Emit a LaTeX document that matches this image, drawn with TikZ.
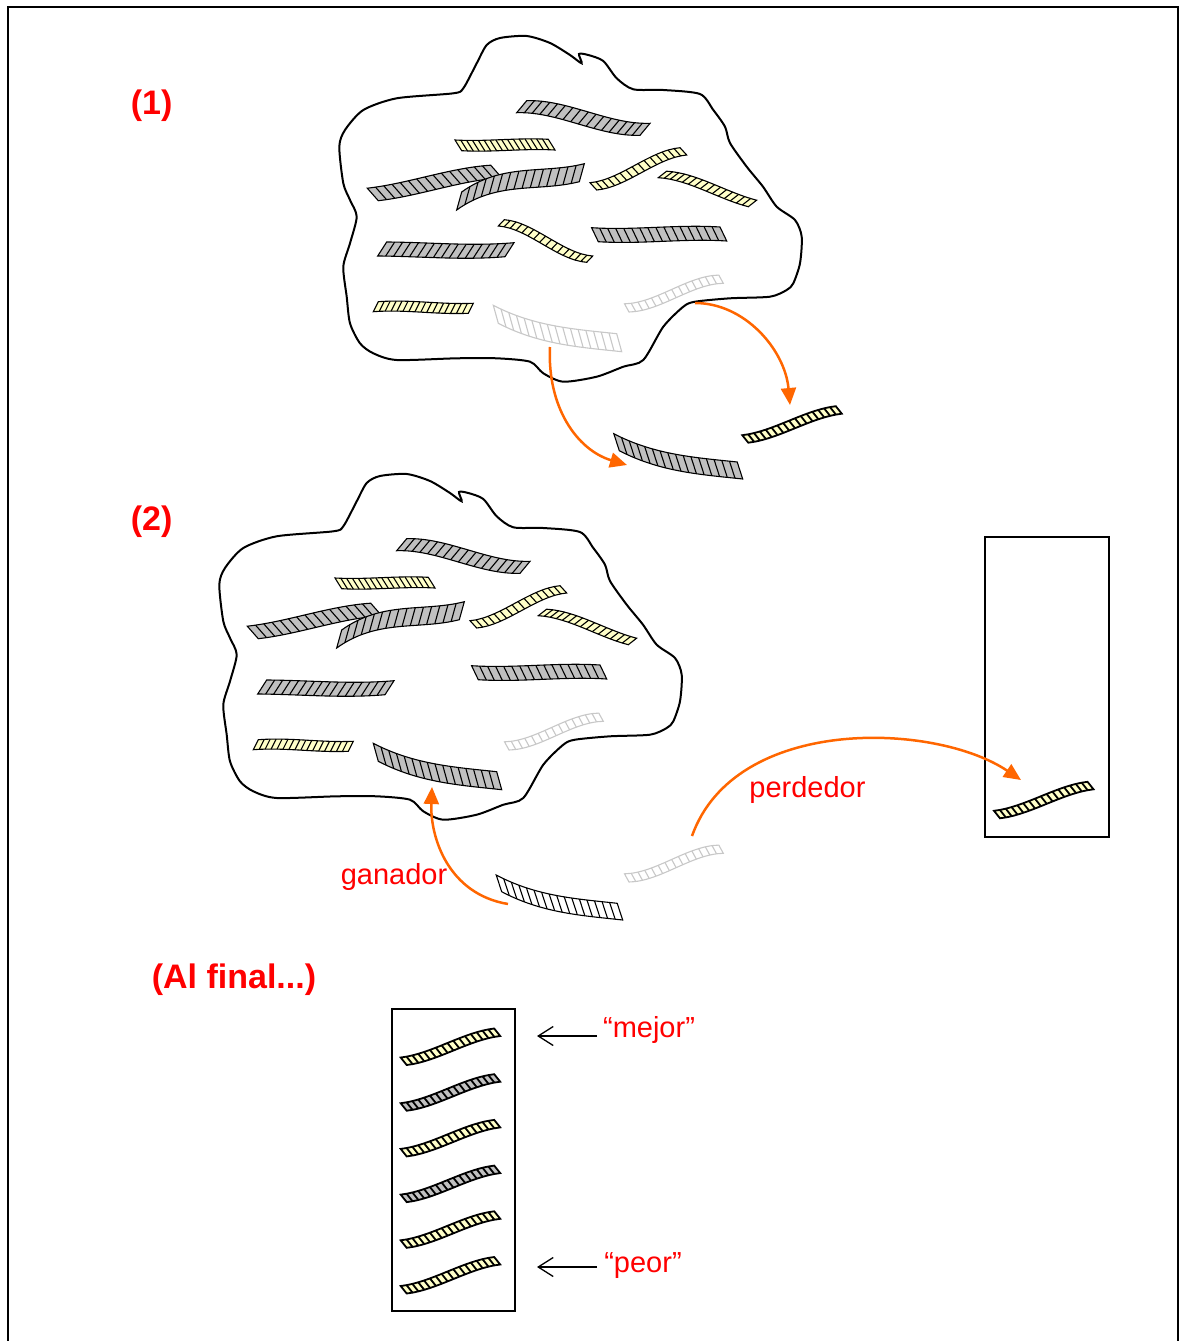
\documentclass[tikz,border=0pt]{standalone}
\usepackage{fontspec}
\setmainfont{Liberation Sans}
\usetikzlibrary{calc,arrows.meta}

\definecolor{stripgray}{RGB}{192,192,192}
\definecolor{stripyellow}{RGB}{255,255,200}
\definecolor{stripghost}{RGB}{200,200,200}
\definecolor{flow}{RGB}{255,102,0}
\definecolor{labelred}{RGB}{255,0,0}

\tikzset{
  gray strip/.style={fill=stripgray, draw=black, line width=1.1pt},
  yellow strip/.style={fill=stripyellow, draw=black, line width=1.1pt},
  ghost strip/.style={fill=white, draw=stripghost, line width=1.1pt},
  white strip/.style={fill=white, draw=black, line width=1.1pt},
  small yellow/.style={fill=stripyellow, draw=black, line width=1.8pt},
  small gray/.style={fill=stripgray, draw=black, line width=1.8pt},
  cloud/.style={draw=black, line width=2pt, fill=white},
  flow arrow/.style={draw=flow, line width=2.5pt, -{Triangle[length=17pt,width=15pt]}},
  pointer/.style={draw=black, line width=1.3pt, -{Straight Barb[length=15pt,width=19pt]}},
  step label/.style={text=labelred, font=\fontsize{34}{40}\selectfont\bfseries, inner sep=0pt, anchor=base},
  tag label/.style={text=labelred, font=\fontsize{29}{34}\selectfont, inner sep=0pt, anchor=base},
  holder/.style={draw=black, line width=2pt, inner sep=0pt},
}

% wavy hatched strip: style, hatch count, start, end, wave offsets of the
% two control points, thickness vector
\newcommand\ribbon[7]{%
  \coordinate (rA) at #3;
  \coordinate (rB) at #4;
  \coordinate (rC) at ($(rA)!1/3!(rB)+#5$);
  \coordinate (rD) at ($(rA)!2/3!(rB)+#6$);
  \path[#1] (rA) .. controls (rC) and (rD) .. (rB) -- ($(rB)+#7$)
     .. controls ($(rD)+#7$) and ($(rC)+#7$) .. ($(rA)+#7$) -- cycle;
  \pgfmathtruncatemacro\rlast{#2-1}%
  \foreach \k in {1,...,\rlast}{%
    \pgfmathsetmacro\rt{\k/#2}%
    \path (rA) .. controls (rC) and (rD) .. (rB) coordinate[pos=\rt] (rH);
    \draw[#1, fill=none] (rH) -- ++#7;
  }%
}
% short strip used outside the population
\newcommand\smallribbon[2]{\ribbon{#1}{16}{#2}{($#2+(93.5,-29)$)}{(0,6)}{(0,-6)}{(-6,-7.5)}}

\newcommand\cloudoutline{plot[smooth cycle, tension=0.45] coordinates {
  (486.7,45) (500,38) (526.7,36) (550,43) (570,55) (581.7,63.3) (579,54)
  (588.3,55) (603.3,61) (616.7,78.3) (633.3,89.3) (663.3,90) (700,94)
  (713.3,110) (725,126.7) (730,143) (746.7,166.7) (763,186.7) (776.7,206.7)
  (795,220) (801.7,236.7) (800,263.3) (793.3,283.3) (786.7,290) (770,296.7)
  (730,298.3) (695,301.7) (683.3,306.7) (663.3,326.7) (643.3,360)
  (623.3,366.7) (596.7,376.7) (563.3,381.7) (543.3,373.3) (530,361.7)
  (496.7,358.3) (456.7,358.3) (396.7,360) (373.3,353.3) (360,343.3)
  (350,323.3) (346.7,296.7) (343.3,266.7) (350,243.3) (356.7,216.7)
  (350,200) (343.3,183.3) (339.3,146.7) (345,130) (363.3,110) (396.7,98.3)
  (453.3,93.3) (463.3,88.3) (476.7,63.3)}}

% strips that stay in the population
\newcommand\commonstrips{%
  \ribbon{gray strip}{16}{(516.7,112.7)}{(640,135.3)}{(0,-9)}{(0,9)}{(10,-12)}
  \ribbon{yellow strip}{16}{(461.7,150.7)}{(555,150)}{(0,2)}{(0,-2)}{(-6.7,-10.7)}
  \ribbon{gray strip}{15}{(378.3,200.7)}{(501.7,177.7)}{(0,3)}{(0,-5)}{(-11,-12.5)}
  \ribbon{gray strip}{15}{(456.7,210)}{(579.3,181.7)}{(0,-20)}{(0,1)}{(5,-18)}
  \ribbon{yellow strip}{15}{(596.7,190)}{(686.7,155)}{(0,9)}{(0,-9)}{(-6.7,-7.3)}
  \ribbon{yellow strip}{15}{(658.3,177.7)}{(748.3,206.7)}{(0,-8)}{(0,2)}{(8.3,-6.5)}
  \ribbon{gray strip}{16}{(377.7,256)}{(505,256.7)}{(0,0)}{(0,4)}{(9,-14)}
  \ribbon{gray strip}{16}{(598.3,241.7)}{(726.7,241)}{(0,3)}{(0,-3)}{(-6.7,-14)}
  \ribbon{yellow strip}{16}{(373.3,311.7)}{(468.3,313.3)}{(0,-3)}{(0,2)}{(5,-10)}
  \ribbon{ghost strip}{14}{(629,312)}{(723.3,283.3)}{(0,9)}{(0,-9)}{(-4.5,-8.2)}
}

\begin{document}
\begin{tikzpicture}[x=1pt, y=-1pt]
\useasboundingbox (0,0) rectangle (1179,1341);

% page frame (open at the bottom)
\draw[line width=2.5pt] (8,1345) -- (8,7) -- (1178,7) -- (1178,1345);

% (1) population and the two picked strips
\draw[cloud] \cloudoutline;
\commonstrips
\ribbon{yellow strip}{15}{(498.3,226)}{(586.7,262.3)}{(0,-10)}{(0,10)}{(6,-6.3)}
\ribbon{ghost strip}{16}{(498.3,323.3)}{(621.7,351.7)}{(0,12)}{(0,5)}{(-5,-18)}

\ribbon{gray strip}{16}{(619.3,450.7)}{(742.7,479)}{(0,12)}{(0,5)}{(-5.5,-17)}
\smallribbon{small yellow}{(748.3,442.7)}

% (2) population after the tournament
\begin{scope}[shift={(-120,438)}]
  \draw[cloud] \cloudoutline;
  \commonstrips
  \ribbon{gray strip}{16}{(498.3,323.3)}{(621.7,351.7)}{(0,12)}{(0,5)}{(-5,-18)}
\end{scope}

\ribbon{white strip}{16}{(501.7,891.7)}{(622.7,920)}{(0,12)}{(0,5)}{(-5.5,-16.7)}
\ribbon{ghost strip}{14}{(629,882)}{(723.3,853.3)}{(0,9)}{(0,-9)}{(-4.5,-8.2)}

\node[holder, minimum width=124pt, minimum height=300pt] (loserbox) at (1047,687) {};
\smallribbon{small yellow}{(1000,818.3)}

% final ranking
\node[holder, minimum width=123.3pt, minimum height=301.4pt] (rankbox) at (453.3,1160) {};
\smallribbon{small yellow}{(406.7,1065)}
\smallribbon{small gray}{(406.7,1110.7)}
\smallribbon{small yellow}{(406.7,1156.4)}
\smallribbon{small gray}{(406.7,1202.1)}
\smallribbon{small yellow}{(406.7,1247.8)}
\smallribbon{small yellow}{(406.7,1293.5)}

% connector ends
\coordinate (takeA) at (550,347);
\coordinate (dropA) at (627,465);
\coordinate (takeB) at (695,303);
\coordinate (dropB) at (790,405);
\coordinate (winFrom) at (508,904);
\coordinate (winTo) at (432,787);
\coordinate (loseFrom) at (692,836);
\coordinate (loseTo) at (1021,780);
\coordinate (bestTail) at (597,1036);
\coordinate (bestTip) at (537,1036);
\coordinate (worstTail) at (597,1267);
\coordinate (worstTip) at (537,1267);

\draw[flow arrow] (takeA) .. controls +(-3,60) and +(-50,-15) .. (dropA);
\draw[flow arrow] (takeB) .. controls +(50,0) and +(-5,-55) .. (dropB);
\draw[flow arrow] (winFrom) .. controls +(-60,-10) and +(-2,50) .. (winTo);
\draw[flow arrow] (loseFrom) .. controls +(43,-121) and +(-86,-58) .. (loseTo);

\draw[pointer] (bestTail) -- (bestTip);
\draw[pointer] (worstTail) -- (worstTip);

% labels
\node[step label] (lab1) at (151.7,114.6) {(1)};
\node[step label] (lab2) at (151.7,530) {(2)};
\node[step label] (labend) at (234,988) {(Al final...)};
\node[tag label] (win) at (394,884) {ganador};
\node[tag label] (lose) at (807.5,797) {perdedor};
\node[tag label] (best) at (649,1037) {“mejor”};
\node[tag label] (worst) at (643,1272) {“peor”};
\end{tikzpicture}
\end{document}
